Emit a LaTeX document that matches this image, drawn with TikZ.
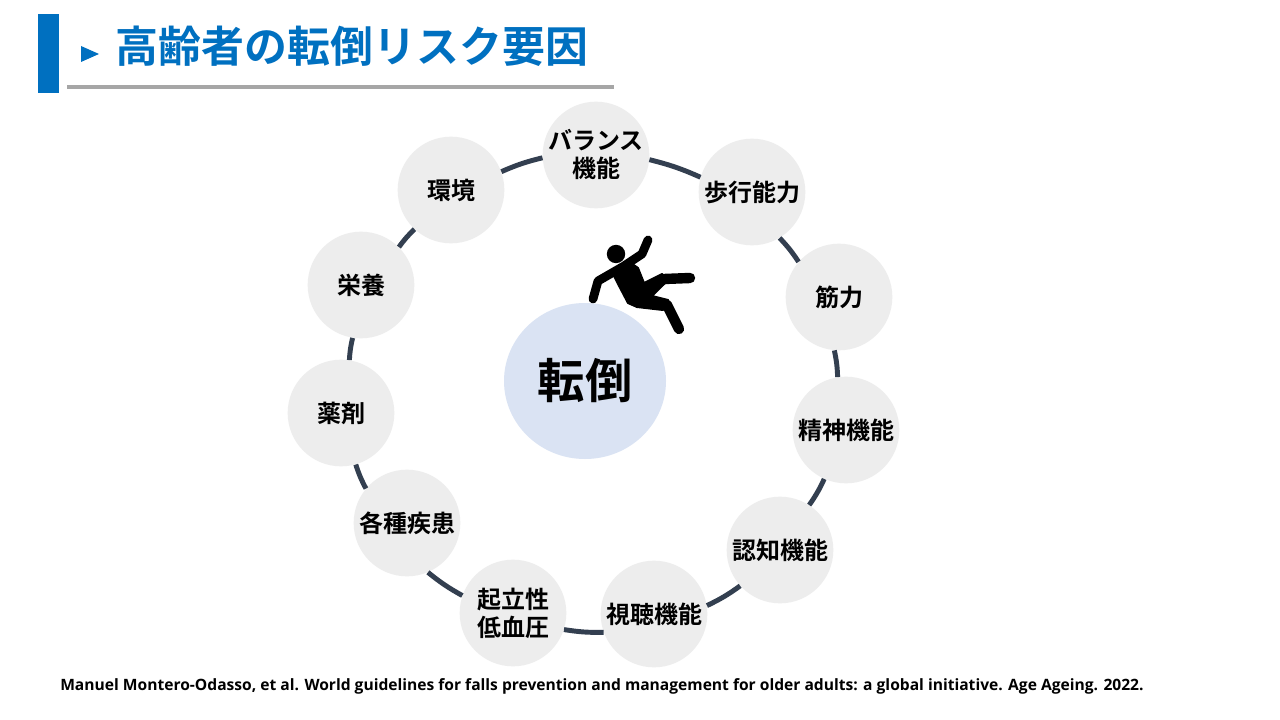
\documentclass[tikz,border=0pt]{standalone}
\usepackage{fontspec}
\usetikzlibrary{shapes.geometric}
\setmainfont{Noto Sans CJK JP Bold}
\newfontfamily\latinb{Open Sans Bold}
\definecolor{blueT}{HTML}{0070C0}
\definecolor{ringc}{HTML}{333F50}
\definecolor{nodec}{HTML}{EDEDED}
\definecolor{centerc}{HTML}{DAE3F3}
\definecolor{rulec}{HTML}{A6A6A6}
\tikzset{
 factor/.style={circle,fill=nodec,minimum size=80pt,inner sep=0pt,align=center,font=\fontsize{18}{21}\selectfont,text=black},
 link/.style={draw=ringc,line width=3.7pt},
 limb/.style={line width=6.6pt,line cap=round,line join=round,black},
 leg/.style={line width=7.8pt,line cap=round,line join=round,black}
}
\begin{document}
\begin{tikzpicture}[x=0.75pt,y=-0.75pt]
\useasboundingbox (0,0) rectangle (1280,720);
\fill[white] (0,0) rectangle (1280,720);
\fill[blueT] (38,14) rectangle (59,93);
\fill[rulec] (67,85) rectangle (614,89);
\fill[blueT] (81,46) -- (99,54) -- (81,62) -- cycle;
\node[anchor=west,inner sep=0pt,text=blueT,font=\fontsize{32.2}{36}\selectfont] (title) at (115.5,46) {高齢者の転倒リスク要因};
\node[factor] (n1) at (596,155) {\makebox[0pt][c]{バランス}\\機能\\[-18pt]\mbox{}};
\node[factor] (n2) at (752,192) {歩行能力};
\node[factor] (n3) at (839,297) {筋力};
\node[factor] (n4) at (846,430) {精神機能};
\node[factor] (n5) at (780,550) {認知機能};
\node[factor] (n6) at (654,614) {視聴機能};
\node[factor] (n7) at (513,613) {起立性\\低血圧};
\node[factor] (n8) at (407,523) {各種疾患};
\node[factor] (n9) at (341,413) {薬剤};
\node[factor] (n10) at (361,285) {栄養};
\node[factor] (n11) at (451,190) {環境};
\foreach \a/\b in {n11.20/n1.183,n1.-5/n2.164,n2.-59/n3.139,n3.-95/n4.99,n4.-114/n5.57,n5.-138/n6.9,n6.-160/n7.-18,n7.161/n8.-67,n8.140/n9.-74,n9.81/n10.-99,n10.45/n11.-133}
  \draw[link] (\a) to[bend left=5] (\b);
\node[ellipse,fill=centerc,minimum width=121.5pt,minimum height=117pt,inner sep=0pt,font=\fontsize{35.5}{40}\selectfont] (c) at (585,381) {転倒};
\fill[black] (616,254) circle (9.2);
\draw[limb] (648,240) -- (642,254) -- (624,266) -- (598,281) -- (593,299);
\fill[black,draw=black,line join=round,line width=1.5pt] (612,272) -- (628,261) -- (638,268) -- (644,283) -- (662,274) -- (665,283) -- (652,296) -- (668,300) -- (663,310) -- (637,307) -- (628,303) -- (617,282) -- cycle;
\draw[leg] (647,290) -- (664,279) -- (690,278);
\draw[leg] (640,302) -- (667,305) -- (679,329);
\node[anchor=west,inner sep=0pt,font=\latinb\fontsize{11.7}{14}\selectfont] (cite) at (60,686) {Manuel Montero-Odasso, et al. World guidelines for falls prevention and management for older adults: a global initiative. Age Ageing. 2022.};
\end{tikzpicture}
\end{document}
